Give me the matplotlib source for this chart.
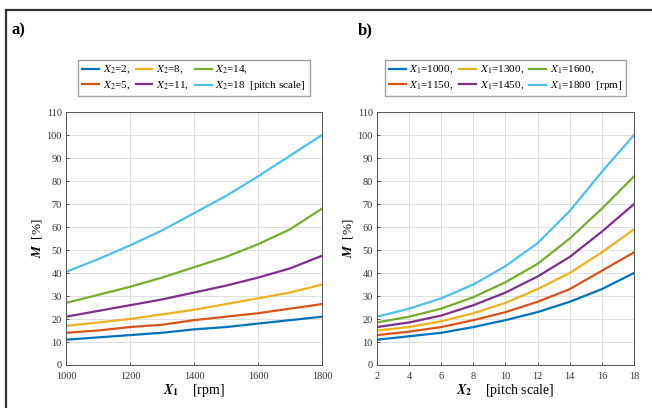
import matplotlib
matplotlib.use("Agg")
import matplotlib.pyplot as plt
from matplotlib.lines import Line2D

# MATLAB default line colours
COLORS = ["#0072BD", "#D95319", "#EDB120", "#7E2F8E", "#77AC30", "#4DBEEE"]

# panel a) : M vs X1 for several X2
x1 = [1000, 1100, 1200, 1300, 1400, 1500, 1600, 1700, 1800]
x2_levels = [2, 5, 8, 11, 14, 18]
m_a = [
    [11, 12, 13, 14, 15.5, 16.5, 18, 19.5, 21],
    [14, 15, 16.5, 17.5, 19.5, 21, 22.5, 24.5, 26.5],
    [17, 18.5, 20, 22, 24, 26.5, 29, 31.5, 35],
    [21, 23.5, 26, 28.5, 31.5, 34.5, 38, 42, 47.5],
    [27, 30.5, 34, 38, 42.5, 47, 52.5, 59, 68],
    [40.5, 46, 52, 58.5, 66, 73.5, 82, 91, 100],
]

# panel b) : M vs X2 for several X1
x2 = [2, 4, 6, 8, 10, 12, 14, 16, 18]
x1_levels = [1000, 1150, 1300, 1450, 1600, 1800]
m_b = [
    [11, 12.5, 14, 16.5, 19.5, 23, 27.5, 33, 40],
    [13, 14.5, 16.5, 19.5, 23, 27.5, 33, 41, 49],
    [15, 16.5, 19, 22.5, 27, 33, 40, 49, 59],
    [16.5, 18.5, 21.5, 26, 31.5, 38.5, 47, 58, 70],
    [18.5, 21, 24.5, 29.5, 36, 44, 55, 68, 82],
    [21, 24.5, 29, 35, 43, 53, 67, 84, 100],
]

plt.rcParams.update({
    "font.family": "Liberation Serif",
    "mathtext.fontset": "stix",
    "axes.edgecolor": "#555555",
    "xtick.color": "#333333", "ytick.color": "#333333",
    "axes.linewidth": 0.7,
})

fig = plt.figure(figsize=(6.52, 4.08), dpi=100)
ax_a = fig.add_axes([0.1012, 0.1054, 0.3926, 0.620])
ax_b = fig.add_axes([0.5782, 0.1054, 0.3942, 0.620])

# frame of the cropped figure (top and left edges only)
fig.add_artist(Line2D([0.009, 1.0], [0.975, 0.975], transform=fig.transFigure,
                      color="#333333", lw=1.6))
fig.add_artist(Line2D([0.009, 0.009], [0.0, 0.975], transform=fig.transFigure,
                      color="#333333", lw=1.6))

for i, lvl in enumerate(x2_levels):
    lab = "$X_2$=" + str(lvl) + ("  [pitch scale]" if i == len(x2_levels) - 1 else ",")
    ax_a.plot(x1, m_a[i], color=COLORS[i], lw=1.6, label=lab)

for i, lvl in enumerate(x1_levels):
    lab = "$X_1$=" + str(lvl) + ("  [rpm]" if i == len(x1_levels) - 1 else ",")
    ax_b.plot(x2, m_b[i], color=COLORS[i], lw=1.6, label=lab)

ax_a.set_xlim(1000, 1800)
ax_a.set_xticks(range(1000, 1801, 200))
ax_b.set_xlim(2, 18)
ax_b.set_xticks(range(2, 19, 2))

for ax in (ax_a, ax_b):
    ax.set_ylim(0, 110)
    ax.set_yticks(range(0, 111, 10))
    ax.grid(True, color="#d9d9d9", lw=0.6)
    ax.tick_params(labelsize=7.5, length=2.5, width=0.6, direction="in")
    ax.tick_params(axis="y", pad=3)
    ax.tick_params(axis="x", pad=5)
    ax.set_ylabel(r"$\boldsymbol{M}$  [%]", fontsize=9.5, labelpad=2)
    ax.legend(loc="lower center", bbox_to_anchor=(0.5, 1.04), ncol=3,
              fontsize=8, frameon=True, fancybox=False, edgecolor="#888888",
              handlelength=1.5, handletextpad=0.35, columnspacing=0.5,
              labelspacing=0.3, borderpad=0.35)

ax_a.set_xlabel(r"$\boldsymbol{X}_\mathbf{1}$    [rpm]", fontsize=10, labelpad=1)
ax_b.set_xlabel(r"$\boldsymbol{X}_\mathbf{2}$    [pitch scale]", fontsize=10, labelpad=1)

fig.text(0.018, 0.915, "a)", fontsize=12, fontweight="bold")
fig.text(0.548, 0.915, "b)", fontsize=12, fontweight="bold")

fig.savefig("out.png", dpi=100)
